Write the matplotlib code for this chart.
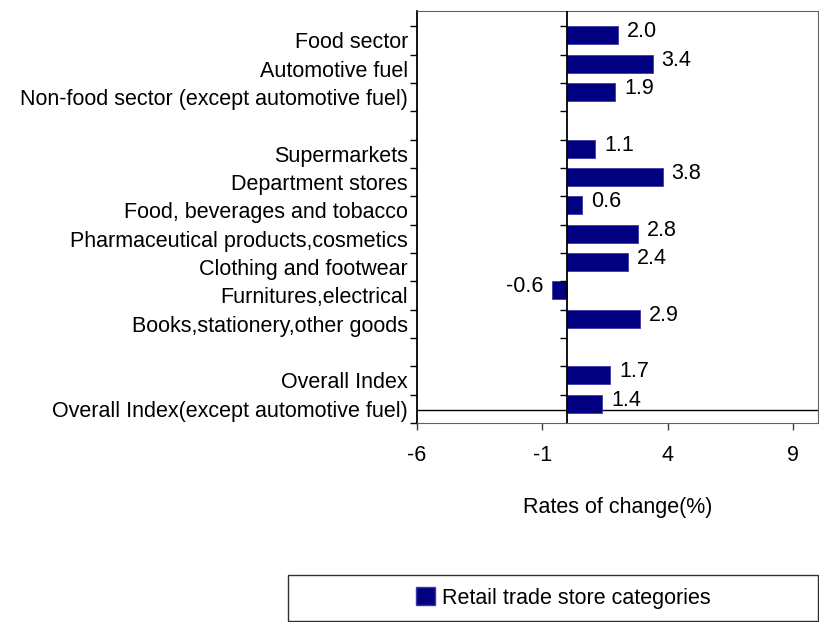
import matplotlib
matplotlib.use("Agg")
import matplotlib.pyplot as plt
from matplotlib.patches import Rectangle, Patch
import numpy as np

plt.rcParams['font.family'] = ['Liberation Sans', 'DejaVu Sans']

group_sectors = ["Food sector", "Automotive fuel", "Non-food sector (except automotive fuel)"]
values_sectors = [2.0, 3.4, 1.9]
group_stores = ["Supermarkets", "Department stores", "Food, beverages and tobacco",
                "Pharmaceutical products,cosmetics", "Clothing and footwear",
                "Furnitures,electrical", "Books,stationery,other goods"]
values_stores = [1.1, 3.8, 0.6, 2.8, 2.4, -0.6, 2.9]
group_overall = ["Overall Index", "Overall Index(except automotive fuel)"]
values_overall = [1.7, 1.4]

x_ticks = [-6, -1, 4, 9]
x_label = "Rates of change(%)"
legend_label = "Retail trade store categories"
bar_color = "#000080"

# build slot layout (a blank slot between groups)
labels, values, slots = [], [], []
slot = 0
for gi, (g, v) in enumerate([(group_sectors, values_sectors), (group_stores, values_stores),
                             (group_overall, values_overall)]):
    if gi > 0:
        slot += 1
    for lab, val in zip(g, v):
        labels.append(lab); values.append(val); slots.append(slot)
        slot += 1
nslots = slot  # 14
slots = np.array(slots)

fig = plt.figure(figsize=(8.19, 6.22), dpi=100)
ax = fig.add_axes([417/819, 1-423/622, 401/819, 412/622])

bar_h = 0.635
top_y = nslots - slots            # top edge of each slot
bar_c = top_y - bar_h/2
ax.barh(bar_c, values, height=bar_h, color=bar_color, edgecolor="#3a3aa8", linewidth=0.6, zorder=3)

ax.set_xlim(-6, 10)
ax.set_ylim(0, nslots + 0.54)

FS = 15.5
for yc, v in zip(bar_c, values):
    if v >= 0:
        ax.annotate(f"{v:.1f}", (v, yc), xytext=(6.5, 2.5), textcoords="offset points",
                    ha="left", va="center", fontsize=FS, zorder=4)
    else:
        ax.annotate(f"{v:.1f}", (v, yc), xytext=(-6.5, 2.5), textcoords="offset points",
                    ha="right", va="center", fontsize=FS, zorder=4)

# y ticks: major at slot boundaries (no labels), minor at slot centers (labels)
ax.set_yticks(np.arange(0, nslots + 1))
ax.set_yticklabels([])
ax.set_yticks(top_y - 0.5, minor=True)
ax.set_yticklabels(labels, minor=True, fontsize=FS)
ax.tick_params(axis="y", which="minor", length=0, pad=6.5)
ax.tick_params(axis="y", which="major", length=5, width=1, direction="out")

ax.set_xticks(x_ticks)
ax.set_xticklabels([str(t) for t in x_ticks], fontsize=FS)
ax.tick_params(axis="x", length=5, width=1, direction="out", pad=11, color="#404040")
ax.set_xlabel(x_label, fontsize=FS, labelpad=22)

# zero line with its own ticks
ax.axvline(0, color="black", lw=1.3, zorder=5)
ax.hlines(np.arange(1, nslots + 1), -0.28, 0, color="black", lw=1, zorder=5)
ax.axhline(0.46, color="black", lw=1, zorder=2)

for s in ["top", "right", "bottom"]:
    ax.spines[s].set_color("#606060")
ax.spines["left"].set_color("black")
ax.spines["left"].set_linewidth(1.3)

# legend box
fig.patches.append(Rectangle((288/819, 1/622), 530/819, 46/622, transform=fig.transFigure,
                             fill=False, edgecolor="#303030", lw=1))
fig.legend(handles=[Patch(facecolor=bar_color, edgecolor="#3a3aa8", label=legend_label)],
           loc="center", bbox_to_anchor=(563/819, 24/622), frameon=False, fontsize=FS,
           handlelength=0.9, handleheight=0.9, handletextpad=0.3)

fig.savefig("out.png", dpi=100)
